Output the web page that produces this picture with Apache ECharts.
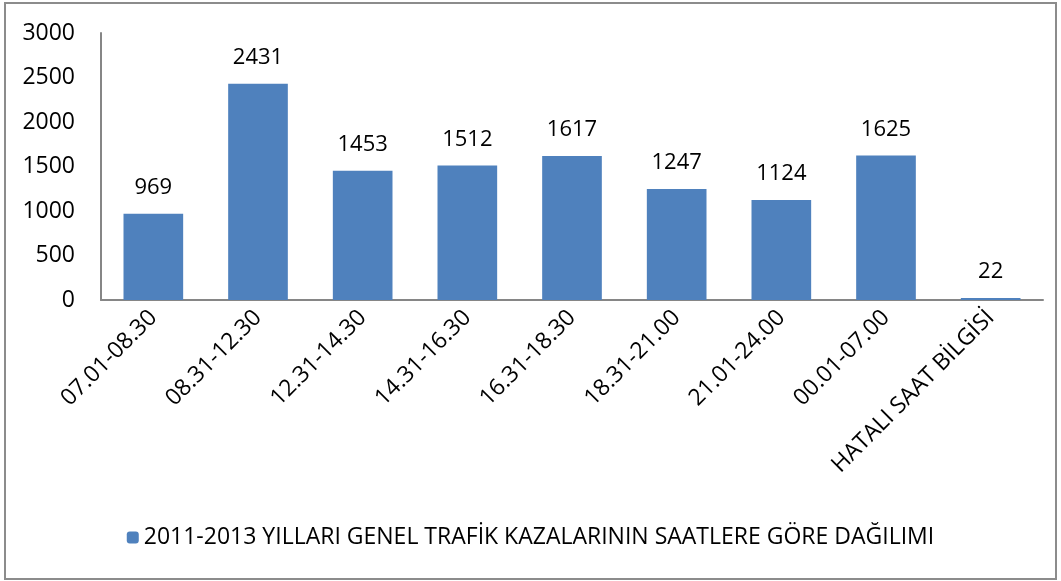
<!DOCTYPE html>
<html>
<head>
<meta charset="utf-8">
<script src="https://cdn.jsdelivr.net/npm/echarts@6/dist/echarts.min.js"></script>
<style>
  html, body { margin: 0; padding: 0; background: #fff; }
  #main { width: 1061px; height: 581px; }
</style>
</head>
<body>
<div id="main"></div>
<script>
(function () {
  // saat dilimleri
  var categories = ['07.01-08.30', '08.31-12.30', '12.31-14.30', '14.31-16.30', '16.31-18.30', '18.31-21.00', '21.01-24.00', '00.01-07.00', 'HATALI SAAT BİLGİSİ'];
  var values = [969, 2431, 1453, 1512, 1617, 1247, 1124, 1625, 22];
  var yTicks = [0, 500, 1000, 1500, 2000, 2500, 3000];
  var seriesName = '2011-2013 YILLARI GENEL TRAFİK KAZALARININ SAATLERE GÖRE DAĞILIMI';

  var font = '"Open Sans", "Noto Sans", sans-serif';
  var myChart = echarts.init(document.getElementById('main'));
  var option = {
    animation: false,
    textStyle: { fontFamily: font },
    graphic: [{
      type: 'rect',
      shape: { x: 5, y: 3, width: 1051, height: 576 },
      style: { fill: 'none', stroke: '#8c8c8c', lineWidth: 2 }
    }],
    legend: {
      bottom: 27,
      left: 'center',
      itemWidth: 12,
      itemHeight: 12,
      itemGap: 4,
      textStyle: { color: '#000', fontSize: 23, fontFamily: font },
      data: [seriesName]
    },
    grid: { left: 101, right: 18, top: 33, bottom: 281 },
    xAxis: {
      type: 'category',
      data: categories,
      axisLine: { lineStyle: { color: '#868686', width: 2 } },
      axisTick: { show: false },
      axisLabel: {
        rotate: 45,
        interval: 0,
        margin: 14,
        color: '#000',
        fontSize: 23,
        fontFamily: font
      }
    },
    yAxis: {
      type: 'value',
      min: yTicks[0],
      max: yTicks[yTicks.length - 1],
      interval: 500,
      axisLine: { show: true, lineStyle: { color: '#868686', width: 2 } },
      axisTick: { show: false },
      splitLine: { show: false },
      axisLabel: {
        color: '#000',
        fontSize: 23,
        margin: 26,
        fontFamily: font,
        formatter: function (v) { return String(v); }
      }
    },
    series: [{
      name: seriesName,
      type: 'bar',
      data: values,
      barWidth: '57%',
      itemStyle: { color: '#4F81BD' },
      label: {
        show: true,
        position: 'top',
        distance: 15,
        color: '#000',
        fontSize: 22,
        fontFamily: font
      }
    }]
  };
  myChart.setOption(option);
})();
</script>
</body>
</html>
